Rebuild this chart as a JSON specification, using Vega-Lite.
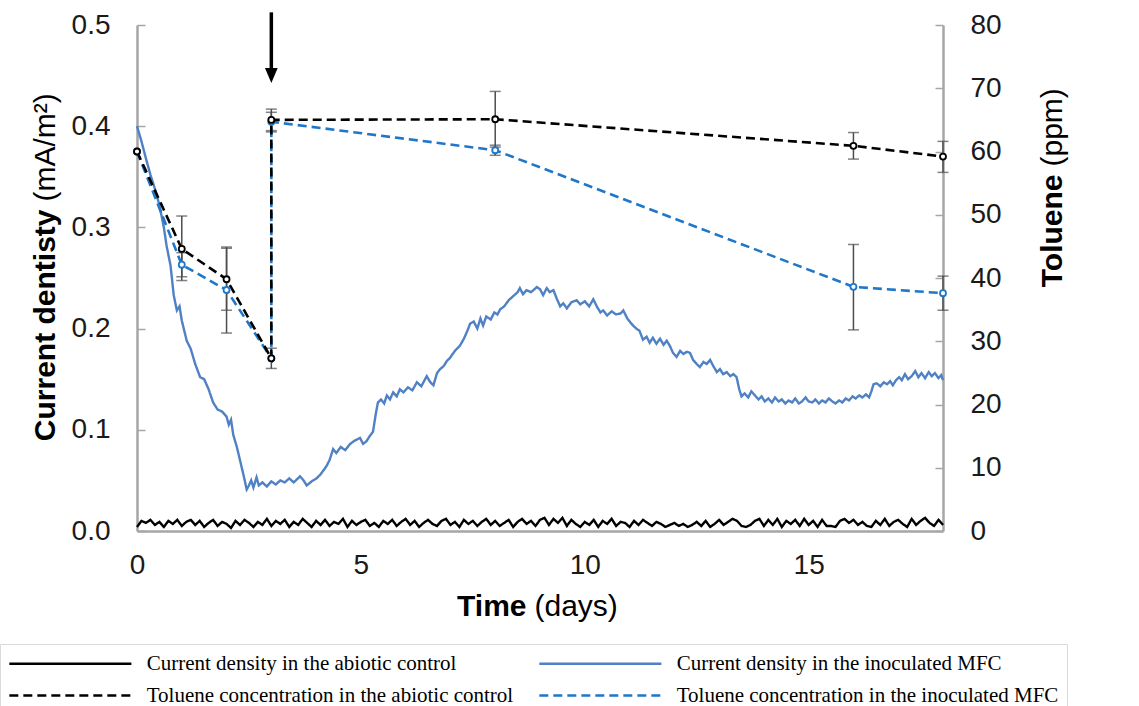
{
  "$schema": "https://vega.github.io/schema/vega-lite/v6.json",
  "width": 806,
  "height": 506,
  "autosize": {"type": "none"},
  "padding": {"left": 137, "top": 25, "right": 196, "bottom": 175},
  "background": "#ffffff",
  "datasets": {
    "current": [
      {"k":"ca","t":0.0,"v":0.004},{"k":"ca","t":0.1,"v":0.010},{"k":"ca","t":0.2,"v":0.008},{"k":"ca","t":0.3,"v":0.011},{"k":"ca","t":0.4,"v":0.006},{"k":"ca","t":0.5,"v":0.009},{"k":"ca","t":0.6,"v":0.004},{"k":"ca","t":0.7,"v":0.010},{"k":"ca","t":0.8,"v":0.007},{"k":"ca","t":0.9,"v":0.011},
      {"k":"ca","t":1.0,"v":0.005},{"k":"ca","t":1.1,"v":0.009},{"k":"ca","t":1.2,"v":0.011},{"k":"ca","t":1.3,"v":0.006},{"k":"ca","t":1.4,"v":0.010},{"k":"ca","t":1.5,"v":0.004},{"k":"ca","t":1.6,"v":0.008},{"k":"ca","t":1.7,"v":0.011},{"k":"ca","t":1.8,"v":0.005},{"k":"ca","t":1.9,"v":0.009},
      {"k":"ca","t":2.0,"v":0.007},{"k":"ca","t":2.1,"v":0.003},{"k":"ca","t":2.2,"v":0.010},{"k":"ca","t":2.3,"v":0.006},{"k":"ca","t":2.4,"v":0.011},{"k":"ca","t":2.5,"v":0.008},{"k":"ca","t":2.6,"v":0.004},{"k":"ca","t":2.7,"v":0.009},{"k":"ca","t":2.8,"v":0.006},{"k":"ca","t":2.9,"v":0.012},
      {"k":"ca","t":3.0,"v":0.005},{"k":"ca","t":3.1,"v":0.010},{"k":"ca","t":3.2,"v":0.007},{"k":"ca","t":3.3,"v":0.011},{"k":"ca","t":3.4,"v":0.004},{"k":"ca","t":3.5,"v":0.009},{"k":"ca","t":3.6,"v":0.006},{"k":"ca","t":3.7,"v":0.012},{"k":"ca","t":3.8,"v":0.008},{"k":"ca","t":3.9,"v":0.004},
      {"k":"ca","t":4.0,"v":0.010},{"k":"ca","t":4.1,"v":0.006},{"k":"ca","t":4.2,"v":0.011},{"k":"ca","t":4.3,"v":0.005},{"k":"ca","t":4.4,"v":0.009},{"k":"ca","t":4.5,"v":0.007},{"k":"ca","t":4.6,"v":0.012},{"k":"ca","t":4.7,"v":0.004},{"k":"ca","t":4.8,"v":0.010},{"k":"ca","t":4.9,"v":0.006},
      {"k":"ca","t":5.0,"v":0.009},{"k":"ca","t":5.1,"v":0.011},{"k":"ca","t":5.2,"v":0.005},{"k":"ca","t":5.3,"v":0.008},{"k":"ca","t":5.4,"v":0.004},{"k":"ca","t":5.5,"v":0.010},{"k":"ca","t":5.6,"v":0.007},{"k":"ca","t":5.7,"v":0.011},{"k":"ca","t":5.8,"v":0.005},{"k":"ca","t":5.9,"v":0.009},
      {"k":"ca","t":6.0,"v":0.012},{"k":"ca","t":6.1,"v":0.006},{"k":"ca","t":6.2,"v":0.010},{"k":"ca","t":6.3,"v":0.004},{"k":"ca","t":6.4,"v":0.008},{"k":"ca","t":6.5,"v":0.011},{"k":"ca","t":6.6,"v":0.007},{"k":"ca","t":6.7,"v":0.005},{"k":"ca","t":6.8,"v":0.010},{"k":"ca","t":6.9,"v":0.012},
      {"k":"ca","t":7.0,"v":0.006},{"k":"ca","t":7.1,"v":0.009},{"k":"ca","t":7.2,"v":0.004},{"k":"ca","t":7.3,"v":0.011},{"k":"ca","t":7.4,"v":0.007},{"k":"ca","t":7.5,"v":0.010},{"k":"ca","t":7.6,"v":0.005},{"k":"ca","t":7.7,"v":0.009},{"k":"ca","t":7.8,"v":0.012},{"k":"ca","t":7.9,"v":0.006},
      {"k":"ca","t":8.0,"v":0.010},{"k":"ca","t":8.1,"v":0.005},{"k":"ca","t":8.2,"v":0.008},{"k":"ca","t":8.3,"v":0.011},{"k":"ca","t":8.4,"v":0.004},{"k":"ca","t":8.5,"v":0.009},{"k":"ca","t":8.6,"v":0.012},{"k":"ca","t":8.7,"v":0.007},{"k":"ca","t":8.8,"v":0.010},{"k":"ca","t":8.9,"v":0.005},
      {"k":"ca","t":9.0,"v":0.011},{"k":"ca","t":9.1,"v":0.013},{"k":"ca","t":9.2,"v":0.006},{"k":"ca","t":9.3,"v":0.012},{"k":"ca","t":9.4,"v":0.008},{"k":"ca","t":9.5,"v":0.013},{"k":"ca","t":9.6,"v":0.005},{"k":"ca","t":9.7,"v":0.011},{"k":"ca","t":9.8,"v":0.007},{"k":"ca","t":9.9,"v":0.004},
      {"k":"ca","t":10.0,"v":0.009},{"k":"ca","t":10.1,"v":0.006},{"k":"ca","t":10.2,"v":0.011},{"k":"ca","t":10.3,"v":0.004},{"k":"ca","t":10.4,"v":0.010},{"k":"ca","t":10.5,"v":0.007},{"k":"ca","t":10.6,"v":0.012},{"k":"ca","t":10.7,"v":0.005},{"k":"ca","t":10.8,"v":0.009},{"k":"ca","t":10.9,"v":0.008},
      {"k":"ca","t":11.0,"v":0.004},{"k":"ca","t":11.1,"v":0.010},{"k":"ca","t":11.2,"v":0.006},{"k":"ca","t":11.3,"v":0.011},{"k":"ca","t":11.4,"v":0.008},{"k":"ca","t":11.5,"v":0.005},{"k":"ca","t":11.6,"v":0.009},{"k":"ca","t":11.7,"v":0.007},{"k":"ca","t":11.8,"v":0.004},{"k":"ca","t":11.9,"v":0.006},
      {"k":"ca","t":12.0,"v":0.008},{"k":"ca","t":12.1,"v":0.005},{"k":"ca","t":12.2,"v":0.007},{"k":"ca","t":12.3,"v":0.004},{"k":"ca","t":12.4,"v":0.006},{"k":"ca","t":12.5,"v":0.009},{"k":"ca","t":12.6,"v":0.005},{"k":"ca","t":12.7,"v":0.010},{"k":"ca","t":12.8,"v":0.004},{"k":"ca","t":12.9,"v":0.007},
      {"k":"ca","t":13.0,"v":0.011},{"k":"ca","t":13.1,"v":0.006},{"k":"ca","t":13.2,"v":0.009},{"k":"ca","t":13.3,"v":0.012},{"k":"ca","t":13.4,"v":0.010},{"k":"ca","t":13.5,"v":0.005},{"k":"ca","t":13.6,"v":0.004},{"k":"ca","t":13.7,"v":0.006},{"k":"ca","t":13.8,"v":0.010},{"k":"ca","t":13.9,"v":0.012},
      {"k":"ca","t":14.0,"v":0.005},{"k":"ca","t":14.1,"v":0.011},{"k":"ca","t":14.2,"v":0.006},{"k":"ca","t":14.3,"v":0.012},{"k":"ca","t":14.4,"v":0.004},{"k":"ca","t":14.5,"v":0.010},{"k":"ca","t":14.6,"v":0.007},{"k":"ca","t":14.7,"v":0.011},{"k":"ca","t":14.8,"v":0.005},{"k":"ca","t":14.9,"v":0.012},
      {"k":"ca","t":15.0,"v":0.006},{"k":"ca","t":15.1,"v":0.010},{"k":"ca","t":15.2,"v":0.004},{"k":"ca","t":15.3,"v":0.011},{"k":"ca","t":15.4,"v":0.005},{"k":"ca","t":15.5,"v":0.005},{"k":"ca","t":15.6,"v":0.004},{"k":"ca","t":15.7,"v":0.010},{"k":"ca","t":15.8,"v":0.012},{"k":"ca","t":15.9,"v":0.008},
      {"k":"ca","t":16.0,"v":0.011},{"k":"ca","t":16.1,"v":0.006},{"k":"ca","t":16.2,"v":0.009},{"k":"ca","t":16.3,"v":0.005},{"k":"ca","t":16.4,"v":0.004},{"k":"ca","t":16.5,"v":0.010},{"k":"ca","t":16.6,"v":0.006},{"k":"ca","t":16.7,"v":0.012},{"k":"ca","t":16.8,"v":0.005},{"k":"ca","t":16.9,"v":0.009},
      {"k":"ca","t":17.0,"v":0.011},{"k":"ca","t":17.1,"v":0.007},{"k":"ca","t":17.2,"v":0.004},{"k":"ca","t":17.3,"v":0.012},{"k":"ca","t":17.4,"v":0.006},{"k":"ca","t":17.5,"v":0.010},{"k":"ca","t":17.6,"v":0.013},{"k":"ca","t":17.7,"v":0.008},{"k":"ca","t":17.8,"v":0.005},{"k":"ca","t":17.9,"v":0.011},
      {"k":"ca","t":18.0,"v":0.006},
      {"k":"ci","t":0,"v":0.400},{"k":"ci","t":0.1,"v":0.385},{"k":"ci","t":0.2,"v":0.368},{"k":"ci","t":0.3,"v":0.352},{"k":"ci","t":0.4,"v":0.338},{"k":"ci","t":0.5,"v":0.322},{"k":"ci","t":0.6,"v":0.300},{"k":"ci","t":0.66,"v":0.282},{"k":"ci","t":0.75,"v":0.262},{"k":"ci","t":0.82,"v":0.233},
      {"k":"ci","t":0.89,"v":0.218},{"k":"ci","t":0.95,"v":0.222},{"k":"ci","t":1.0,"v":0.208},{"k":"ci","t":1.11,"v":0.188},{"k":"ci","t":1.2,"v":0.180},{"k":"ci","t":1.3,"v":0.165},{"k":"ci","t":1.41,"v":0.152},{"k":"ci","t":1.5,"v":0.150},{"k":"ci","t":1.6,"v":0.140},{"k":"ci","t":1.7,"v":0.127},
      {"k":"ci","t":1.8,"v":0.120},{"k":"ci","t":1.9,"v":0.118},{"k":"ci","t":2.0,"v":0.113},{"k":"ci","t":2.05,"v":0.105},{"k":"ci","t":2.1,"v":0.110},{"k":"ci","t":2.15,"v":0.095},{"k":"ci","t":2.23,"v":0.083},{"k":"ci","t":2.3,"v":0.070},{"k":"ci","t":2.38,"v":0.055},{"k":"ci","t":2.45,"v":0.041},
      {"k":"ci","t":2.5,"v":0.045},{"k":"ci","t":2.55,"v":0.050},{"k":"ci","t":2.6,"v":0.043},{"k":"ci","t":2.67,"v":0.053},{"k":"ci","t":2.72,"v":0.045},{"k":"ci","t":2.8,"v":0.048},{"k":"ci","t":2.9,"v":0.044},{"k":"ci","t":3.0,"v":0.049},{"k":"ci","t":3.1,"v":0.046},{"k":"ci","t":3.2,"v":0.050},
      {"k":"ci","t":3.3,"v":0.048},{"k":"ci","t":3.4,"v":0.052},{"k":"ci","t":3.5,"v":0.048},{"k":"ci","t":3.64,"v":0.054},{"k":"ci","t":3.72,"v":0.050},{"k":"ci","t":3.79,"v":0.045},{"k":"ci","t":3.9,"v":0.049},{"k":"ci","t":4.01,"v":0.052},{"k":"ci","t":4.1,"v":0.056},{"k":"ci","t":4.23,"v":0.064},
      {"k":"ci","t":4.3,"v":0.070},{"k":"ci","t":4.38,"v":0.081},{"k":"ci","t":4.45,"v":0.077},{"k":"ci","t":4.55,"v":0.083},{"k":"ci","t":4.65,"v":0.080},{"k":"ci","t":4.76,"v":0.086},{"k":"ci","t":4.85,"v":0.089},{"k":"ci","t":4.98,"v":0.092},{"k":"ci","t":5.05,"v":0.086},{"k":"ci","t":5.13,"v":0.089},
      {"k":"ci","t":5.2,"v":0.094},{"k":"ci","t":5.27,"v":0.098},{"k":"ci","t":5.33,"v":0.115},{"k":"ci","t":5.38,"v":0.127},{"k":"ci","t":5.45,"v":0.130},{"k":"ci","t":5.52,"v":0.126},{"k":"ci","t":5.58,"v":0.134},{"k":"ci","t":5.65,"v":0.130},{"k":"ci","t":5.72,"v":0.137},{"k":"ci","t":5.8,"v":0.133},
      {"k":"ci","t":5.87,"v":0.140},{"k":"ci","t":5.95,"v":0.137},{"k":"ci","t":6.05,"v":0.142},{"k":"ci","t":6.15,"v":0.139},{"k":"ci","t":6.25,"v":0.147},{"k":"ci","t":6.35,"v":0.143},{"k":"ci","t":6.47,"v":0.153},{"k":"ci","t":6.55,"v":0.147},{"k":"ci","t":6.62,"v":0.144},{"k":"ci","t":6.7,"v":0.156},
      {"k":"ci","t":6.77,"v":0.160},{"k":"ci","t":6.85,"v":0.163},{"k":"ci","t":6.92,"v":0.168},{"k":"ci","t":6.99,"v":0.171},{"k":"ci","t":7.05,"v":0.175},{"k":"ci","t":7.12,"v":0.179},{"k":"ci","t":7.21,"v":0.183},{"k":"ci","t":7.3,"v":0.190},{"k":"ci","t":7.38,"v":0.198},{"k":"ci","t":7.44,"v":0.205},
      {"k":"ci","t":7.52,"v":0.207},{"k":"ci","t":7.6,"v":0.200},{"k":"ci","t":7.67,"v":0.210},{"k":"ci","t":7.73,"v":0.203},{"k":"ci","t":7.8,"v":0.212},{"k":"ci","t":7.9,"v":0.209},{"k":"ci","t":7.98,"v":0.216},{"k":"ci","t":8.05,"v":0.214},{"k":"ci","t":8.11,"v":0.219},{"k":"ci","t":8.2,"v":0.222},
      {"k":"ci","t":8.3,"v":0.228},{"k":"ci","t":8.4,"v":0.232},{"k":"ci","t":8.5,"v":0.236},{"k":"ci","t":8.55,"v":0.240},{"k":"ci","t":8.62,"v":0.234},{"k":"ci","t":8.7,"v":0.238},{"k":"ci","t":8.8,"v":0.236},{"k":"ci","t":8.93,"v":0.241},{"k":"ci","t":9.0,"v":0.239},{"k":"ci","t":9.07,"v":0.233},
      {"k":"ci","t":9.15,"v":0.240},{"k":"ci","t":9.22,"v":0.236},{"k":"ci","t":9.3,"v":0.238},{"k":"ci","t":9.38,"v":0.229},{"k":"ci","t":9.45,"v":0.222},{"k":"ci","t":9.52,"v":0.225},{"k":"ci","t":9.6,"v":0.220},{"k":"ci","t":9.7,"v":0.226},{"k":"ci","t":9.82,"v":0.228},{"k":"ci","t":9.9,"v":0.224},
      {"k":"ci","t":10.0,"v":0.227},{"k":"ci","t":10.1,"v":0.222},{"k":"ci","t":10.19,"v":0.229},{"k":"ci","t":10.28,"v":0.221},{"k":"ci","t":10.35,"v":0.216},{"k":"ci","t":10.41,"v":0.218},{"k":"ci","t":10.5,"v":0.213},{"k":"ci","t":10.6,"v":0.217},{"k":"ci","t":10.7,"v":0.214},{"k":"ci","t":10.8,"v":0.215},
      {"k":"ci","t":10.86,"v":0.218},{"k":"ci","t":10.95,"v":0.210},{"k":"ci","t":11.02,"v":0.206},{"k":"ci","t":11.08,"v":0.203},{"k":"ci","t":11.15,"v":0.200},{"k":"ci","t":11.22,"v":0.198},{"k":"ci","t":11.3,"v":0.189},{"k":"ci","t":11.38,"v":0.192},{"k":"ci","t":11.45,"v":0.186},{"k":"ci","t":11.52,"v":0.191},
      {"k":"ci","t":11.6,"v":0.185},{"k":"ci","t":11.68,"v":0.190},{"k":"ci","t":11.76,"v":0.184},{"k":"ci","t":11.83,"v":0.188},{"k":"ci","t":11.9,"v":0.183},{"k":"ci","t":11.97,"v":0.176},{"k":"ci","t":12.05,"v":0.172},{"k":"ci","t":12.13,"v":0.178},{"k":"ci","t":12.2,"v":0.175},{"k":"ci","t":12.28,"v":0.177},
      {"k":"ci","t":12.35,"v":0.176},{"k":"ci","t":12.42,"v":0.169},{"k":"ci","t":12.5,"v":0.165},{"k":"ci","t":12.57,"v":0.162},{"k":"ci","t":12.65,"v":0.167},{"k":"ci","t":12.72,"v":0.165},{"k":"ci","t":12.8,"v":0.169},{"k":"ci","t":12.87,"v":0.163},{"k":"ci","t":12.95,"v":0.157},{"k":"ci","t":13.02,"v":0.160},
      {"k":"ci","t":13.09,"v":0.155},{"k":"ci","t":13.17,"v":0.157},{"k":"ci","t":13.25,"v":0.153},{"k":"ci","t":13.32,"v":0.155},{"k":"ci","t":13.39,"v":0.152},{"k":"ci","t":13.45,"v":0.140},{"k":"ci","t":13.5,"v":0.133},{"k":"ci","t":13.57,"v":0.136},{"k":"ci","t":13.65,"v":0.132},{"k":"ci","t":13.72,"v":0.138},
      {"k":"ci","t":13.8,"v":0.134},{"k":"ci","t":13.88,"v":0.130},{"k":"ci","t":13.95,"v":0.133},{"k":"ci","t":14.02,"v":0.128},{"k":"ci","t":14.1,"v":0.131},{"k":"ci","t":14.18,"v":0.127},{"k":"ci","t":14.25,"v":0.132},{"k":"ci","t":14.33,"v":0.128},{"k":"ci","t":14.4,"v":0.130},{"k":"ci","t":14.48,"v":0.126},
      {"k":"ci","t":14.55,"v":0.129},{"k":"ci","t":14.63,"v":0.127},{"k":"ci","t":14.7,"v":0.131},{"k":"ci","t":14.78,"v":0.126},{"k":"ci","t":14.85,"v":0.128},{"k":"ci","t":14.93,"v":0.132},{"k":"ci","t":15.0,"v":0.128},{"k":"ci","t":15.08,"v":0.127},{"k":"ci","t":15.15,"v":0.130},{"k":"ci","t":15.23,"v":0.126},
      {"k":"ci","t":15.3,"v":0.129},{"k":"ci","t":15.38,"v":0.127},{"k":"ci","t":15.45,"v":0.131},{"k":"ci","t":15.53,"v":0.128},{"k":"ci","t":15.6,"v":0.126},{"k":"ci","t":15.68,"v":0.129},{"k":"ci","t":15.75,"v":0.127},{"k":"ci","t":15.83,"v":0.131},{"k":"ci","t":15.9,"v":0.129},{"k":"ci","t":15.98,"v":0.133},
      {"k":"ci","t":16.05,"v":0.131},{"k":"ci","t":16.13,"v":0.134},{"k":"ci","t":16.2,"v":0.132},{"k":"ci","t":16.28,"v":0.135},{"k":"ci","t":16.35,"v":0.132},{"k":"ci","t":16.4,"v":0.138},{"k":"ci","t":16.45,"v":0.145},{"k":"ci","t":16.52,"v":0.146},{"k":"ci","t":16.6,"v":0.143},{"k":"ci","t":16.68,"v":0.147},
      {"k":"ci","t":16.75,"v":0.145},{"k":"ci","t":16.82,"v":0.148},{"k":"ci","t":16.88,"v":0.144},{"k":"ci","t":16.95,"v":0.149},{"k":"ci","t":17.02,"v":0.152},{"k":"ci","t":17.08,"v":0.149},{"k":"ci","t":17.15,"v":0.155},{"k":"ci","t":17.22,"v":0.150},{"k":"ci","t":17.3,"v":0.153},{"k":"ci","t":17.38,"v":0.158},
      {"k":"ci","t":17.45,"v":0.152},{"k":"ci","t":17.52,"v":0.156},{"k":"ci","t":17.6,"v":0.151},{"k":"ci","t":17.68,"v":0.157},{"k":"ci","t":17.75,"v":0.153},{"k":"ci","t":17.82,"v":0.156},{"k":"ci","t":17.9,"v":0.151},{"k":"ci","t":17.96,"v":0.154},{"k":"ci","t":18.0,"v":0.149}
    ],
    "toluene": [
      {"k":"ta","i":0,"t":0,"ppm":60.0,"lo":null,"hi":null},
      {"k":"ta","i":1,"t":1,"ppm":44.6,"lo":39.6,"hi":49.8},
      {"k":"ta","i":2,"t":2,"ppm":39.8,"lo":34.9,"hi":44.7},
      {"k":"ta","i":3,"t":3,"ppm":27.3,"lo":25.7,"hi":28.9},
      {"k":"ta","i":4,"t":3,"ppm":65.0,"lo":63.3,"hi":66.7},
      {"k":"ta","i":5,"t":8,"ppm":65.1,"lo":60.7,"hi":69.5},
      {"k":"ta","i":6,"t":16,"ppm":60.9,"lo":58.8,"hi":63.0},
      {"k":"ta","i":7,"t":18,"ppm":59.2,"lo":56.7,"hi":61.6},
      {"k":"ti","i":0,"t":0,"ppm":60.0,"lo":null,"hi":null},
      {"k":"ti","i":1,"t":1,"ppm":42.1,"lo":40.2,"hi":44.0},
      {"k":"ti","i":2,"t":2,"ppm":38.1,"lo":31.3,"hi":44.9},
      {"k":"ti","i":3,"t":3,"ppm":27.3,"lo":null,"hi":null},
      {"k":"ti","i":4,"t":3,"ppm":64.7,"lo":63.1,"hi":66.2},
      {"k":"ti","i":5,"t":8,"ppm":60.2,"lo":59.4,"hi":61.0},
      {"k":"ti","i":6,"t":16,"ppm":38.6,"lo":31.8,"hi":45.3},
      {"k":"ti","i":7,"t":18,"ppm":37.6,"lo":34.9,"hi":40.3}
    ]
  },
  "config": {
    "font": "Liberation Sans",
    "view": {"stroke": null},
    "axis": {
      "grid": false,
      "labelFont": "Liberation Sans",
      "labelFontSize": 28,
      "labelColor": "#1a1a1a",
      "labelFlush": false,
      "labelOverlap": false,
      "titleFont": "Liberation Sans",
      "titleFontSize": 30,
      "titleColor": "#000000",
      "titleLimit": 1000,
      "domainColor": "#a6a6a6",
      "domainWidth": 2.5,
      "tickColor": "#a6a6a6",
      "tickWidth": 1.5
    }
  },
  "resolve": {
    "scale": {"y": "independent"},
    "axis": {"x": "independent", "y": "independent"}
  },
  "layer": [
    {
      "data": {"name": "current"},
      "mark": {"type": "line", "strokeWidth": 2.4},
      "encoding": {
        "x": {
          "field": "t", "type": "quantitative",
          "scale": {"domain": [0, 18], "nice": false, "zero": false},
          "axis": {
            "orient": "bottom", "values": [0, 5, 10, 15], "ticks": false, "labelPadding": 20,
            "title": "Time", "titleFontWeight": "bold", "titleAngle": 0,
            "titleAlign": "right", "titleBaseline": "alphabetic", "titleX": 389, "titleY": 84
          }
        },
        "y": {
          "field": "v", "type": "quantitative",
          "scale": {"domain": [0, 0.5], "nice": false},
          "axis": {
            "orient": "left", "values": [0, 0.1, 0.2, 0.3, 0.4, 0.5], "format": ".1f",
            "tickSize": -8, "labelPadding": 35,
            "title": "Current dentisty", "titleFontWeight": "bold", "titleAngle": 270,
            "titleAlign": "right", "titleBaseline": "alphabetic", "titleX": -83, "titleY": 184
          }
        },
        "color": {
          "field": "k", "type": "nominal",
          "scale": {"domain": ["ca", "ta", "ci", "ti"], "range": ["#000000", "#000000", "#4f81c4", "#1f77c9"]},
          "legend": {
            "orient": "none", "legendX": -137, "legendY": 619, "columns": 2, "title": null,
            "symbolType": "M-1,0H11", "symbolSize": 414, "symbolStrokeWidth": 2.5,
            "labelFont": "Liberation Serif", "labelFontSize": 21, "labelColor": "#000000", "labelLimit": 900,
            "labelOffset": 115.7, "columnPadding": 20, "rowPadding": 10, "padding": 8,
            "strokeColor": "#d9d9d9",
            "labelExpr": "datum.value == 'ca' ? 'Current density in the abiotic control' : datum.value == 'ci' ? 'Current density in the inoculated MFC' : datum.value == 'ta' ? 'Toluene concentration in the abiotic control' : 'Toluene concentration in the inoculated MFC'",
            "encode": {"symbols": {"update": {"strokeDash": {"signal": "datum.value == 'ta' || datum.value == 'ti' ? [14, 6.4] : [1, 0]"}}}}
          }
        },
        "strokeDash": {
          "field": "k", "type": "nominal",
          "scale": {"domain": ["ca", "ta", "ci", "ti"], "range": [[1, 0], [9, 5], [1, 0], [9, 5]]},
          "legend": {
            "orient": "none", "legendX": -137, "legendY": 619, "columns": 2, "title": null,
            "symbolType": "M-1,0H11", "symbolSize": 414, "symbolStrokeWidth": 2.5,
            "labelFont": "Liberation Serif", "labelFontSize": 21, "labelColor": "#000000", "labelLimit": 900,
            "labelOffset": 115.7, "columnPadding": 20, "rowPadding": 10, "padding": 8,
            "strokeColor": "#d9d9d9",
            "labelExpr": "datum.value == 'ca' ? 'Current density in the abiotic control' : datum.value == 'ci' ? 'Current density in the inoculated MFC' : datum.value == 'ta' ? 'Toluene concentration in the abiotic control' : 'Toluene concentration in the inoculated MFC'",
            "encode": {"symbols": {"update": {"strokeDash": {"signal": "datum.value == 'ta' || datum.value == 'ti' ? [14, 6.4] : [1, 0]"}}}}
          }
        }
      }
    },
    {
      "data": {"name": "toluene"},
      "mark": {"type": "point", "opacity": 0},
      "encoding": {
        "x": {
          "field": "t", "type": "quantitative",
          "scale": {"domain": [0, 18], "nice": false, "zero": false},
          "axis": {
            "orient": "bottom", "labels": false, "ticks": false, "domain": false,
            "title": "(days)", "titleFontWeight": "normal", "titleAngle": 0,
            "titleAlign": "left", "titleBaseline": "alphabetic", "titleX": 397, "titleY": 84
          }
        },
        "y": {
          "field": "ppm", "type": "quantitative",
          "scale": {"domain": [0, 80], "nice": false},
          "axis": {
            "orient": "left", "labels": false, "ticks": false, "domain": false,
            "title": "(mA/m²)", "titleFontWeight": "normal", "titleAngle": 270,
            "titleAlign": "left", "titleBaseline": "alphabetic", "titleX": -83, "titleY": 176
          }
        }
      }
    },
    {
      "data": {"name": "toluene"},
      "encoding": {
        "x": {"field": "t", "type": "quantitative", "scale": {"domain": [0, 18], "nice": false, "zero": false}, "axis": null},
        "y": {"field": "ppm", "type": "quantitative", "scale": {"domain": [0, 80], "nice": false}, "axis": null}
      },
      "layer": [
        {
          "transform": [{"filter": "datum.lo != null"}],
          "mark": {"type": "rule", "color": "#4d4d4d", "strokeWidth": 1.5},
          "encoding": {
            "y": {"field": "lo", "type": "quantitative", "scale": {"domain": [0, 80], "nice": false}, "axis": null},
            "y2": {"field": "hi"}
          }
        },
        {
          "transform": [{"filter": "datum.lo != null"}, {"fold": ["lo", "hi"], "as": ["end", "bound"]}],
          "mark": {"type": "tick", "orient": "horizontal", "size": 11, "thickness": 1.5, "color": "#4d4d4d"},
          "encoding": {
            "y": {"field": "bound", "type": "quantitative", "scale": {"domain": [0, 80], "nice": false}, "axis": null}
          }
        },
        {
          "transform": [{"filter": "datum.k == 'ti'"}],
          "mark": {"type": "line", "strokeWidth": 2.6},
          "encoding": {
            "color": {"field": "k", "type": "nominal", "scale": {"domain": ["ca", "ta", "ci", "ti"], "range": ["#000000", "#000000", "#4f81c4", "#1f77c9"]}, "legend": null},
            "strokeDash": {"field": "k", "type": "nominal", "scale": {"domain": ["ca", "ta", "ci", "ti"], "range": [[1, 0], [9, 5], [1, 0], [9, 5]]}, "legend": null},
            "order": {"field": "i", "type": "quantitative"}
          }
        },
        {
          "transform": [{"filter": "datum.k == 'ta'"}],
          "mark": {"type": "line", "strokeWidth": 2.6},
          "encoding": {
            "color": {"field": "k", "type": "nominal", "scale": {"domain": ["ca", "ta", "ci", "ti"], "range": ["#000000", "#000000", "#4f81c4", "#1f77c9"]}, "legend": null},
            "strokeDash": {"field": "k", "type": "nominal", "scale": {"domain": ["ca", "ta", "ci", "ti"], "range": [[1, 0], [9, 5], [1, 0], [9, 5]]}, "legend": null},
            "order": {"field": "i", "type": "quantitative"}
          }
        },
        {
          "transform": [{"filter": "datum.k == 'ti'"}],
          "mark": {"type": "point", "shape": "circle", "filled": true, "fill": "#ffffff", "stroke": "#1f77c9", "strokeWidth": 1.8, "size": 36, "opacity": 1}
        },
        {
          "transform": [{"filter": "datum.k == 'ta'"}],
          "mark": {"type": "point", "shape": "circle", "filled": true, "fill": "#ffffff", "stroke": "#000000", "strokeWidth": 1.8, "size": 36, "opacity": 1}
        },
        {
          "data": {"values": [{"t": 3, "top": 82.0, "base": 72.9, "head": 72.0}]},
          "layer": [
            {
              "mark": {"type": "rule", "color": "#000000", "strokeWidth": 3.5},
              "encoding": {
                "y": {"field": "top", "type": "quantitative", "scale": {"domain": [0, 80], "nice": false}, "axis": null},
                "y2": {"field": "base"}
              }
            },
            {
              "mark": {"type": "point", "shape": "M-0.85,-1L0.85,-1L0,1Z", "filled": true, "color": "#000000", "size": 225, "opacity": 1},
              "encoding": {
                "y": {"field": "head", "type": "quantitative", "scale": {"domain": [0, 80], "nice": false}, "axis": null}
              }
            }
          ]
        }
      ]
    },
    {
      "data": {"name": "toluene"},
      "mark": {"type": "point", "opacity": 0},
      "encoding": {
        "x": {"field": "t", "type": "quantitative", "scale": {"domain": [0, 18], "nice": false, "zero": false}, "axis": null},
        "y": {
          "field": "ppm", "type": "quantitative",
          "scale": {"domain": [0, 80], "nice": false},
          "axis": {
            "orient": "right", "values": [0, 10, 20, 30, 40, 50, 60, 70, 80],
            "tickSize": -8, "labelPadding": 35,
            "title": "Toluene", "titleFontWeight": "bold", "titleAngle": 270,
            "titleAlign": "right", "titleBaseline": "alphabetic", "titleX": 118, "titleY": 149
          }
        }
      }
    },
    {
      "data": {"name": "toluene"},
      "mark": {"type": "point", "opacity": 0},
      "encoding": {
        "x": {"field": "t", "type": "quantitative", "scale": {"domain": [0, 18], "nice": false, "zero": false}, "axis": null},
        "y": {
          "field": "ppm", "type": "quantitative",
          "scale": {"domain": [0, 80], "nice": false},
          "axis": {
            "orient": "right", "labels": false, "ticks": false, "domain": false,
            "title": "(ppm)", "titleFontWeight": "normal", "titleAngle": 270,
            "titleAlign": "left", "titleBaseline": "alphabetic", "titleX": 118, "titleY": 141
          }
        }
      }
    }
  ]
}
